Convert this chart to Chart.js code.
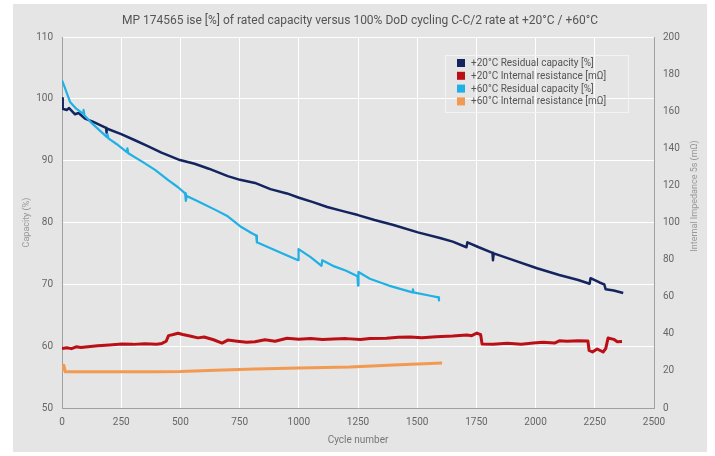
<!DOCTYPE html>
<html>
<head>
<meta charset="utf-8">
<script src="https://cdn.jsdelivr.net/npm/chart.js@4"></script>
<style>
  html, body { margin: 0; padding: 0; background: #fff; }
  #wrap { width: 715px; height: 456px; }
</style>
</head>
<body>
<div id="wrap"><canvas id="cycleChart" width="715" height="456"></canvas></div>
<script>
// values
const cap20Cycles = [0, 3, 20, 30, 45, 55, 70, 97, 130, 186, 187, 190, 250, 308, 360, 420, 498, 560, 620, 700, 752, 815, 880, 950, 1001, 1060, 1120, 1190, 1250, 1320, 1400, 1503, 1596, 1650, 1708, 1712, 1760, 1818, 1820, 1823, 1900, 2006, 2100, 2180, 2228, 2232, 2270, 2290, 2296, 2330, 2370];
const cap20 = [100.1, 98.4, 98.2, 98.5, 97.9, 97.5, 97.7, 96.8, 96.3, 95.3, 94.5, 95.2, 94.3, 93.3, 92.4, 91.3, 90.1, 89.5, 88.7, 87.5, 86.9, 86.4, 85.4, 84.7, 84.0, 83.3, 82.5, 81.8, 81.2, 80.4, 79.6, 78.4, 77.5, 76.9, 76.0, 76.8, 76.0, 75.1, 73.9, 75.0, 74.0, 72.6, 71.5, 70.7, 70.1, 71.0, 70.3, 70.0, 69.2, 69.0, 68.6];

const cap60Cycles = [0, 10, 34, 60, 89, 91, 95, 130, 190, 192, 196, 230, 274, 276, 280, 340, 393, 450, 490, 520, 523, 527, 580, 650, 700, 752, 800, 820, 823, 900, 997, 999, 1050, 1096, 1099, 1150, 1200, 1248, 1250, 1252, 1300, 1380, 1480, 1482, 1484, 1550, 1590, 1592];
const cap60 = [103.0, 102.0, 99.5, 98.4, 97.6, 98.2, 97.3, 95.9, 93.8, 94.3, 93.6, 92.7, 91.4, 92.0, 91.2, 89.8, 88.5, 86.8, 85.7, 84.7, 83.5, 84.3, 83.3, 82.0, 81.0, 79.4, 78.3, 77.9, 76.8, 75.5, 73.9, 75.7, 74.4, 73.0, 73.9, 72.9, 72.2, 71.3, 69.8, 72.0, 70.9, 69.8, 68.7, 69.2, 68.7, 68.2, 67.9, 67.4];

const res20Cycles = [0, 20, 40, 60, 80, 110, 150, 200, 253, 300, 350, 400, 422, 440, 450, 470, 490, 510, 540, 574, 600, 640, 676, 700, 740, 780, 815, 857, 900, 950, 1000, 1050, 1100, 1145, 1200, 1260, 1300, 1370, 1420, 1470, 1520, 1580, 1650, 1710, 1730, 1752, 1768, 1774, 1820, 1880, 1940, 1990, 2031, 2080, 2100, 2133, 2180, 2221, 2226, 2240, 2260, 2285, 2296, 2306, 2330, 2345, 2365];
const res20 = [32.0, 32.5, 32.0, 33.0, 32.6, 33.0, 33.6, 34.0, 34.5, 34.3, 34.6, 34.4, 34.8, 36.0, 39.0, 39.6, 40.3, 39.6, 38.8, 37.8, 38.3, 36.8, 35.0, 36.6, 36.0, 35.4, 35.7, 36.8, 36.0, 37.6, 37.0, 37.5, 36.9, 37.2, 37.4, 36.9, 37.5, 37.6, 38.1, 38.3, 37.9, 38.4, 38.8, 39.4, 39.0, 40.4, 39.5, 34.5, 34.4, 34.9, 34.4, 35.0, 35.4, 35.0, 36.2, 36.0, 36.3, 36.1, 31.0, 30.2, 31.8, 30.2, 32.0, 37.7, 37.0, 35.7, 35.8];

const res60Cycles = [0, 8, 14, 50, 200, 400, 500, 650, 815, 1000, 1216, 1400, 1605];
const res60 = [20.0, 23.0, 19.5, 19.6, 19.5, 19.6, 19.7, 20.3, 21.0, 21.5, 22.1, 23.2, 24.2];

const seriesLabels = [
  "+20°C Residual capacity [%]",
  "+20°C Internal resistance [mΩ]",
  "+60°C Residual capacity [%]",
  "+60°C Internal resistance [mΩ]"
];
const seriesColors = ["#13245f", "#bb0f16", "#1fb0e6", "#f39a52"];

const titleText = "MP 174565 ise [%] of rated capacity versus 100% DoD cycling C-C/2 rate at +20°C / +60°C";
const FONT = "Roboto, 'DejaVu Sans', sans-serif";

function toPoints(xs, ys) {
  return xs.map((x, i) => ({ x: x, y: ys[i] }));
}

// plain numbers, no thousands separator
function plainTick(value) {
  return String(value);
}

// background panel, titles and legend
const decor = {
  id: "decor",
  beforeDraw(chart) {
    const ctx = chart.ctx;
    ctx.save();
    ctx.fillStyle = "#ffffff";
    ctx.fillRect(0, 0, chart.width, chart.height);
    ctx.fillStyle = "#e5e5e5";
    ctx.fillRect(13, 4, 694, 448);
    ctx.restore();
  },
  afterDraw(chart) {
    const ctx = chart.ctx;
    const area = chart.chartArea;
    ctx.save();
    ctx.fillStyle = "#555";
    ctx.font = "12px " + FONT;
    ctx.textAlign = "center";
    ctx.textBaseline = "middle";
    ctx.fillText(titleText, 360, 21);

    // axis titles, both reading bottom to top
    ctx.fillStyle = "#999";
    ctx.font = "9px " + FONT;
    ctx.save();
    ctx.translate(27, (area.top + area.bottom) / 2);
    ctx.rotate(-Math.PI / 2);
    ctx.fillText("Capacity (%)", 0, 0);
    ctx.restore();
    ctx.save();
    ctx.translate(695, 196);
    ctx.rotate(-Math.PI / 2);
    ctx.fillText("Internal Impedance 5s (mΩ)", 0, 0);
    ctx.restore();

    // legend box
    ctx.strokeStyle = "#f4f4f4";
    ctx.lineWidth = 1;
    ctx.strokeRect(445.5, 55.5, 183, 57);
    ctx.font = "10px " + FONT;
    ctx.textAlign = "left";
    seriesLabels.forEach((label, i) => {
      const y = 63 + i * 12.8;
      ctx.fillStyle = seriesColors[i];
      ctx.fillRect(457, y - 4, 8, 8);
      ctx.fillStyle = "#555";
      ctx.fillText(label, 471, y + 0.5);
    });
    ctx.restore();
  }
};

const context = document.getElementById("cycleChart").getContext("2d");

new Chart(context, {
  type: "line",
  data: {
    datasets: [
      {
        label: seriesLabels[3],
        data: toPoints(res60Cycles, res60),
        borderColor: seriesColors[3],
        borderWidth: 3,
        yAxisID: "y1",
      },
      {
        label: seriesLabels[1],
        data: toPoints(res20Cycles, res20),
        borderColor: seriesColors[1],
        borderWidth: 3,
        yAxisID: "y1",
      },
      {
        label: seriesLabels[2],
        data: toPoints(cap60Cycles, cap60),
        borderColor: seriesColors[2],
        borderWidth: 2.2,
        yAxisID: "y",
      },
      {
        label: seriesLabels[0],
        data: toPoints(cap20Cycles, cap20),
        borderColor: seriesColors[0],
        borderWidth: 2.5,
        yAxisID: "y",
      },
    ],
  },
  options: {
    responsive: false,
    animation: false,
    parsing: false,
    elements: {
      point: { radius: 0 },
      line: { tension: 0, borderJoinStyle: "round" },
    },
    layout: { padding: { top: 37, left: 0, right: 0, bottom: 0 } },
    plugins: {
      legend: { display: false },
      title: { display: false },
      tooltip: { enabled: false },
    },
    scales: {
      x: {
        type: "linear",
        min: 0,
        max: 2500,
        ticks: {
          stepSize: 250,
          padding: 8,
          color: "#666",
          font: { family: FONT, size: 10 },
          maxRotation: 0,
          callback: plainTick,
        },
        grid: { color: "#ffffff", lineWidth: 1, drawTicks: false },
        border: { color: "#a0a0a0", width: 1 },
        title: {
          display: true,
          text: "Cycle number",
          color: "#777",
          font: { family: FONT, size: 10 },
          padding: { top: 4, bottom: 10 },
        },
        afterFit(scale) {
          scale.height = 48;
        },
      },
      y: {
        position: "left",
        min: 50,
        max: 110,
        ticks: {
          stepSize: 10,
          padding: 9,
          color: "#666",
          font: { family: FONT, size: 10 },
          callback: plainTick,
        },
        grid: { color: "#ffffff", lineWidth: 1, drawTicks: false },
        border: { color: "#a0a0a0", width: 1 },
        afterFit(scale) {
          scale.width = 62;
        },
      },
      y1: {
        position: "right",
        min: 0,
        max: 200,
        ticks: {
          stepSize: 20,
          padding: 9,
          color: "#666",
          font: { family: FONT, size: 10 },
          callback: plainTick,
        },
        grid: { display: false, drawTicks: false },
        border: { color: "#a0a0a0", width: 1 },
        afterFit(scale) {
          scale.width = 61;
        },
      },
    },
  },
  plugins: [decor],
});
</script>
</body>
</html>
